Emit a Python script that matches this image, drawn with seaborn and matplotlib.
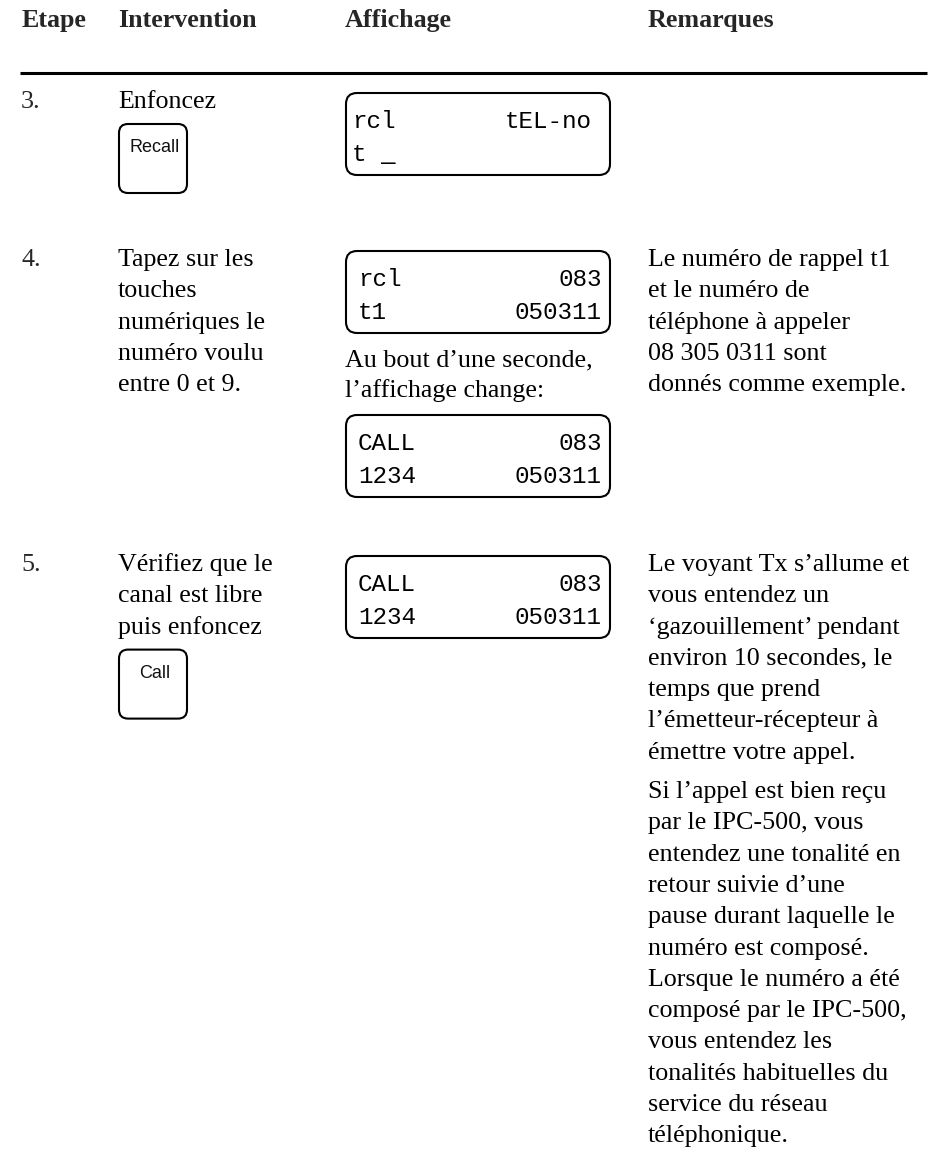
import matplotlib
matplotlib.use("Agg")
import matplotlib.pyplot as plt
from matplotlib.patches import FancyBboxPatch
import seaborn as sns

# page content
headers = ["Etape", "Intervention", "Affichage", "Remarques"]
steps = ["3.", "4.", "5."]
interventions = [
    ["Enfoncez"],
    ["Tapez sur les", "touches", "numériques le", "numéro voulu", "entre 0 et 9."],
    ["Vérifiez que le", "canal est libre", "puis enfoncez"],
]
buttons = ["Recall", None, "Call"]

# LCD screens: (left, right) text per line
lcd_rcl = [("rcl", "tEL-no"), ("t _", "")]
lcd_t1 = [("rcl", "083"), ("t1", "050311")]
lcd_call = [("CALL", "083"), ("1234", "050311")]
between_lcd = ["Au bout d\u2019une seconde,", "l\u2019affichage change:"]

remarks_4 = ["Le numéro de rappel t1", "et le numéro de", "téléphone à appeler",
             "08 305 0311 sont", "donnés comme exemple."]
remarks_5a = ["Le voyant Tx s\u2019allume et", "vous entendez un",
              "\u2018gazouillement\u2019 pendant", "environ 10 secondes, le",
              "temps que prend", "l\u2019émetteur-récepteur à", "émettre votre appel."]
remarks_5b = ["Si l\u2019appel est bien reçu", "par le IPC-500, vous",
              "entendez une tonalité en", "retour suivie d\u2019une",
              "pause durant laquelle le", "numéro est composé.",
              "Lorsque le numéro a été", "composé par le IPC-500,",
              "vous entendez les", "tonalités habituelles du",
              "service du réseau", "téléphonique."]

sns.set_theme(style="white")
plt.rcParams["font.family"] = ["Liberation Serif", "DejaVu Serif"]

FS = 18.7
LH = 31.3

fig = plt.figure(figsize=(9.42, 11.49), dpi=100)
ax = fig.add_axes([0, 0, 1, 1])
ax.set_xlim(0, 942)
ax.set_ylim(1149, 0)
ax.axis("off")

col_x = [22, 118, 345, 648]


def lines(x, y0, items, **kw):
    for i, s in enumerate(items):
        ax.text(x, y0 + i * LH, s, fontsize=FS, va="baseline", ha="left", color="black", **kw)


def button(x, y, label):
    ax.add_patch(FancyBboxPatch((x, y), 68, 69, boxstyle="round,pad=0,rounding_size=9",
                                fill=False, lw=1.5, ec="black"))
    ax.text(x + 36, y + 28, label, fontsize=13, ha="center", va="baseline",
            family=["Liberation Sans", "DejaVu Sans"], color="#111111")


def lcd(top, rows, lx=358, rx=602):
    ax.add_patch(FancyBboxPatch((346, top), 264, 82, boxstyle="round,pad=0,rounding_size=11",
                                fill=False, lw=1.5, ec="black"))
    for i, (l, r) in enumerate(rows):
        y = top + 35 + 33 * i
        ax.text(lx, y, l, fontsize=17.5, ha="left", va="baseline",
                family=["Liberation Mono", "DejaVu Sans Mono"], color="black")
        ax.text(rx, y, r, fontsize=17.5, ha="right", va="baseline",
                family=["Liberation Mono", "DejaVu Sans Mono"], color="black")


# header
for x, h in zip(col_x, headers):
    ax.text(x, 27, h, fontsize=FS, fontweight="bold", va="baseline", ha="left")
ax.plot([20, 927], [73, 73], color="black", lw=2.2, solid_capstyle="butt")

row_top = [93, 251, 556]
for i, step in enumerate(steps):
    base = row_top[i] + 15
    ax.text(col_x[0] - 1, base, step, fontsize=FS, va="baseline", ha="left")
    lines(col_x[1], base, interventions[i])
    if buttons[i]:
        last = base + (len(interventions[i]) - 1) * LH
        button(119, last + 16, buttons[i])

# row 3
lcd(row_top[0], lcd_rcl, lx=352, rx=592)

# row 4
lcd(row_top[1], lcd_t1)
lines(col_x[2], 366, between_lcd)
lcd(415, lcd_call)
lines(col_x[3], row_top[1] + 15, remarks_4)

# row 5
lcd(row_top[2], lcd_call)
lines(col_x[3], row_top[2] + 15, remarks_5a)
lines(col_x[3], 798, remarks_5b)

fig.savefig("out.png", dpi=100, facecolor="white")
